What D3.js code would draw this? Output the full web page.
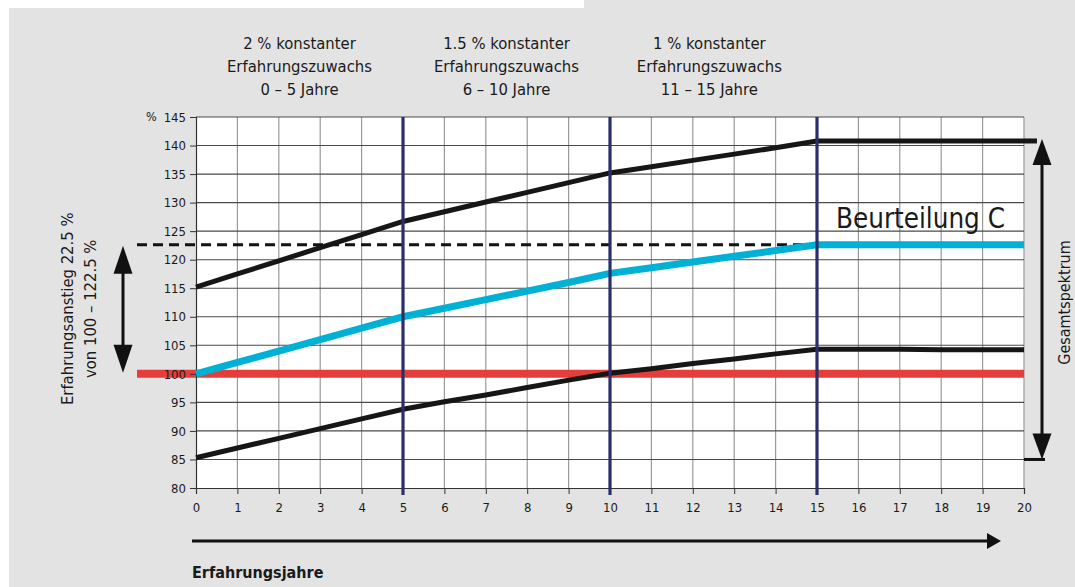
<!DOCTYPE html>
<html>
<head>
<meta charset="utf-8">
<script src="https://cdn.jsdelivr.net/npm/d3@7"></script>
<style>
  html, body { margin: 0; padding: 0; background: #ffffff; }
  svg { display: block; }
  text { font-family: "DejaVu Sans Condensed", "DejaVu Sans", sans-serif; fill: #1a1a1a; }
</style>
</head>
<body>
<svg id="chart" width="1075" height="587"></svg>
<script>
// Experience years on the x axis
const years = d3.range(0, 21);

// Upper bound of the total spectrum (% of baseline)
const upperValues = [115.2, 117.5, 119.8, 122.1, 124.4, 126.7, 128.4, 130.1, 131.8, 133.5, 135.2,
                     136.3, 137.4, 138.5, 139.6, 140.8, 140.8, 140.8, 140.8, 140.8, 140.8];
// Rating C progression
const ratingCValues = [100, 102, 104, 106, 108, 110, 111.5, 113, 114.5, 116, 117.6,
                       118.6, 119.6, 120.6, 121.6, 122.6, 122.6, 122.6, 122.6, 122.6, 122.6];
// Lower bound of the total spectrum
const lowerValues = [85.3, 87.0, 88.7, 90.4, 92.1, 93.8, 95.1, 96.3, 97.6, 98.9, 100.1,
                     100.9, 101.8, 102.6, 103.5, 104.3, 104.3, 104.3, 104.2, 104.2, 104.2];
// Baseline
const baseValue = 100;
const ratingCTarget = 122.6;

// Phase boundaries and their captions
const phaseBreaks = [5, 10, 15];
const phaseLabels = [
  ["2 % konstanter", "Erfahrungszuwachs", "0 – 5 Jahre"],
  ["1.5 % konstanter", "Erfahrungszuwachs", "6 – 10 Jahre"],
  ["1 % konstanter", "Erfahrungszuwachs", "11 – 15 Jahre"]
];
const phaseCenters = [2.5, 7.5, 12.4];

const yTicks = d3.range(80, 146, 5);
const xTicks = d3.range(0, 21, 1);

const svg = d3.select("#chart");

// Background panel
svg.append("rect").attr("x", 0).attr("y", 0).attr("width", 1075).attr("height", 587).attr("fill", "#ffffff");
svg.append("rect").attr("x", 9).attr("y", 8).attr("width", 1066).attr("height", 579).attr("fill", "#e3e3e3");
svg.append("rect").attr("x", 584).attr("y", 0).attr("width", 491).attr("height", 9).attr("fill", "#e3e3e3");

const x = d3.scaleLinear().domain([0, 20]).range([196, 1024]);
const y = d3.scaleLinear().domain([80, 145]).range([488, 117]);

// Plot area
svg.append("rect")
  .attr("x", x(0)).attr("y", y(145))
  .attr("width", x(20) - x(0)).attr("height", y(80) - y(145))
  .attr("fill", "#ffffff");

// Grid: vertical lighter, horizontal darker
const grid = svg.append("g");
grid.selectAll("line.v").data(xTicks.slice(1)).join("line")
  .attr("x1", d => x(d)).attr("x2", d => x(d))
  .attr("y1", y(145)).attr("y2", y(80))
  .attr("stroke", "#9a9a9a").attr("stroke-width", 1.2);
grid.selectAll("line.h").data(yTicks.slice(1)).join("line")
  .attr("x1", x(0)).attr("x2", x(20))
  .attr("y1", d => y(d)).attr("y2", d => y(d))
  .attr("stroke", "#4a4a4a").attr("stroke-width", 1.1);

const line = d3.line().x((d, i) => x(years[i])).y(d => y(d));

// Baseline at 100 % (extends left of the plot)
svg.append("line")
  .attr("x1", 137).attr("x2", x(20))
  .attr("y1", y(baseValue)).attr("y2", y(baseValue))
  .attr("stroke", "#e53e3a").attr("stroke-width", 8);

// Dashed target level for rating C
svg.append("line")
  .attr("x1", 137).attr("x2", x(15))
  .attr("y1", y(ratingCTarget)).attr("y2", y(ratingCTarget))
  .attr("stroke", "#111").attr("stroke-width", 3)
  .attr("stroke-dasharray", "10,6");

// Axes (labels drawn above the baseline band)
const yAxis = d3.axisLeft(y).tickValues(yTicks).tickSize(6).tickPadding(4);
const gy = svg.append("g").attr("transform", `translate(${x(0)},0)`).call(yAxis);
gy.select(".domain").attr("stroke", "#333").attr("stroke-width", 1.2);
gy.selectAll(".tick line").attr("stroke", "#333");
gy.selectAll(".tick text").style("font-size", "13px").attr("fill", "#1a1a1a")
  .style("font-family", "'DejaVu Sans Condensed', sans-serif");

const xAxis = d3.axisBottom(x).tickValues(xTicks).tickSize(6).tickPadding(9);
const gx = svg.append("g").attr("transform", `translate(0,${y(80)})`).call(xAxis);
gx.select(".domain").attr("stroke", "#333").attr("stroke-width", 1.2);
gx.selectAll(".tick line").attr("stroke", "#333");
gx.selectAll(".tick text").style("font-size", "13px").attr("fill", "#1a1a1a")
  .style("font-family", "'Liberation Sans Narrow', 'DejaVu Sans Condensed', sans-serif");

svg.append("text").attr("x", 146).attr("y", y(145) + 4).style("font-size", "12.5px").text("%");

// Series
svg.append("path").datum(lowerValues).attr("d", line)
  .attr("fill", "none").attr("stroke", "#161616").attr("stroke-width", 5);
svg.append("path").datum(upperValues).attr("d", line)
  .attr("fill", "none").attr("stroke", "#161616").attr("stroke-width", 5);
svg.append("path").datum(ratingCValues).attr("d", line)
  .attr("fill", "none").attr("stroke", "#00b1d6").attr("stroke-width", 7);

// Phase boundaries
svg.selectAll("line.phase").data(phaseBreaks).join("line")
  .attr("x1", d => x(d)).attr("x2", d => x(d))
  .attr("y1", y(145)).attr("y2", y(80) + 7)
  .attr("stroke", "#2a2f6b").attr("stroke-width", 3.2);

// Phase captions
phaseLabels.forEach((lines, i) => {
  const t = svg.append("text").attr("text-anchor", "middle").style("font-size", "16.5px");
  lines.forEach((s, j) => {
    t.append("tspan").attr("x", x(phaseCenters[i])).attr("y", 49 + j * 23).text(s);
  });
});

// Rating label
svg.append("text").attr("x", 836).attr("y", 228)
  .style("font-size", "27.5px").text("Beurteilung C");

function arrow(x1, y1, x2, y2, both, headW, headL) {
  const g = svg.append("g");
  const dx = x2 - x1, dy = y2 - y1, len = Math.hypot(dx, dy);
  const ux = dx / len, uy = dy / len;
  const head = (px, py, dirx, diry) => {
    const bx = px - dirx * headL, by = py - diry * headL;
    g.append("path")
      .attr("d", `M${px},${py} L${bx - diry * headW / 2},${by + dirx * headW / 2} L${bx + diry * headW / 2},${by - dirx * headW / 2} Z`)
      .attr("fill", "#111");
  };
  g.append("line")
    .attr("x1", both ? x1 + ux * headL * 0.8 : x1).attr("y1", both ? y1 + uy * headL * 0.8 : y1)
    .attr("x2", x2 - ux * headL * 0.8).attr("y2", y2 - uy * headL * 0.8)
    .attr("stroke", "#111").attr("stroke-width", 3);
  head(x2, y2, ux, uy);
  if (both) head(x1, y1, -ux, -uy);
}

// Left: rise of rating C
arrow(123, y(ratingCTarget) + 1, 123, y(baseValue) - 1, true, 19, 28);
svg.append("text")
  .attr("transform", `translate(73,${y(111.4)}) rotate(-90)`)
  .attr("text-anchor", "middle").style("font-size", "16.5px")
  .text("Erfahrungsanstieg 22.5 %");
svg.append("text")
  .attr("transform", `translate(96,${y(111.4)}) rotate(-90)`)
  .attr("text-anchor", "middle").style("font-size", "16.5px")
  .text("von 100 – 122.5 %");

// Right: total spectrum
svg.append("line").attr("x1", x(20)).attr("x2", 1037)
  .attr("y1", y(upperValues[20])).attr("y2", y(upperValues[20]))
  .attr("stroke", "#161616").attr("stroke-width", 5);
svg.append("line").attr("x1", x(20)).attr("x2", 1045)
  .attr("y1", y(85)).attr("y2", y(85)).attr("stroke", "#111").attr("stroke-width", 3);
arrow(1042, y(upperValues[20]) - 2, 1042, y(85), true, 19, 26);
svg.append("text")
  .attr("transform", `translate(1070,${y(112.5)}) rotate(-90)`)
  .attr("text-anchor", "middle").style("font-size", "16px")
  .text("Gesamtspektrum");

// Bottom: experience years direction
arrow(192, 541, 1001, 541, false, 16, 14);
svg.append("text").attr("x", 192).attr("y", 578)
  .style("font-size", "16px").style("font-weight", "bold")
  .text("Erfahrungsjahre");
</script>
</body>
</html>
